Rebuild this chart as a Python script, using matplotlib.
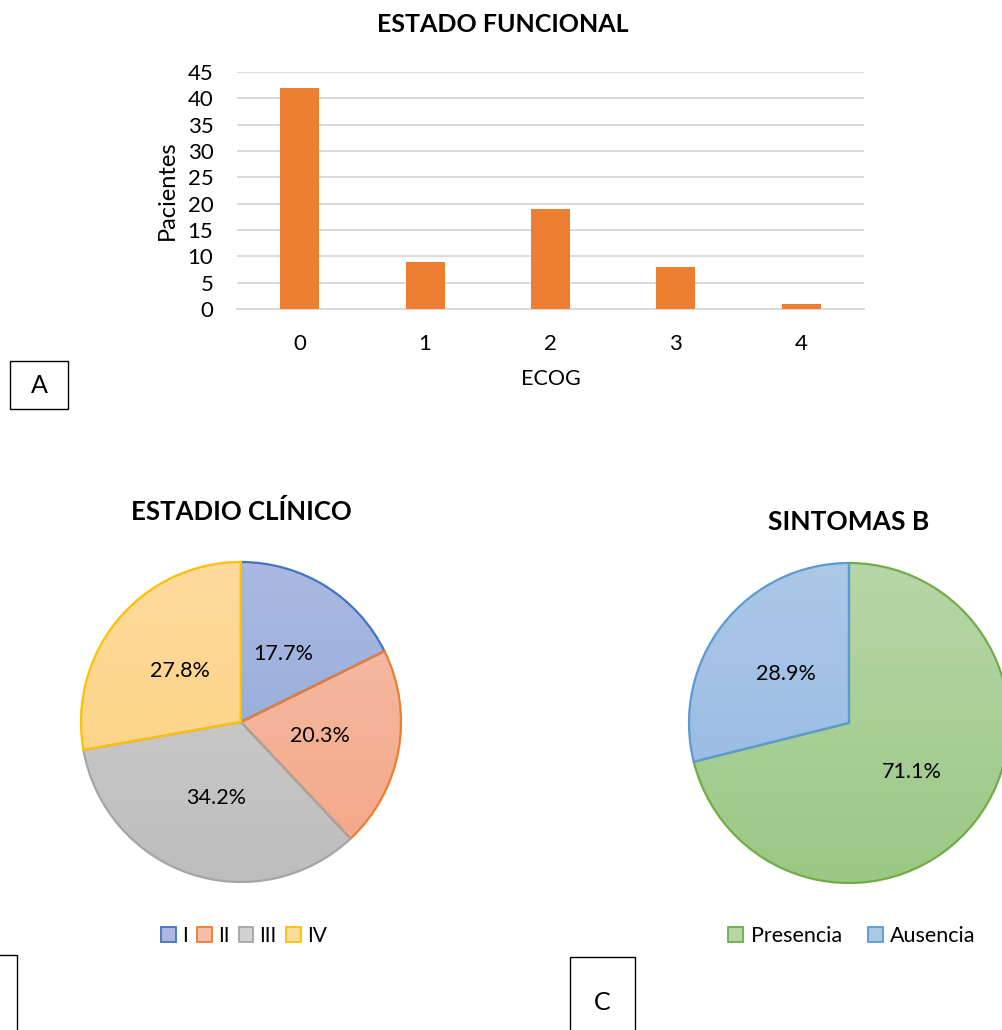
import matplotlib
matplotlib.use("Agg")
import matplotlib.pyplot as plt
import numpy as np
from matplotlib.colors import LinearSegmentedColormap
from matplotlib.patches import Patch, Rectangle

plt.rcParams['font.family'] = ['Lato', 'DejaVu Sans']

# data
ecog = ['0', '1', '2', '3', '4']
pacientes = [42, 9, 19, 8, 1]
yticks = [0, 5, 10, 15, 20, 25, 30, 35, 40, 45]

estadio = ['I', 'II', 'III', 'IV']
estadio_pct = [17.7, 20.3, 34.2, 27.8]
estadio_top = ['#abb9e1', '#f6bfa9', '#d2d2d2', '#fddb9d']
estadio_bot = ['#8aa5d8', '#f3a685', '#bdbdbd', '#fdd17c']
estadio_edge = ['#4472c4', '#ed7d31', '#a5a5a5', '#ffc000']

sintomas = ['Presencia', 'Ausencia']
sintomas_pct = [71.1, 28.9]
sintomas_top = ['#b7d6a8', '#acc8e7']
sintomas_bot = ['#9bc884', '#91b6e2']
sintomas_edge = ['#70ad47', '#5b9bd5']

W, H = 1002, 1030
fig = plt.figure(figsize=(W / 100, H / 100), dpi=100)


def px(x0, y0, x1, y1):
    # pixel box -> figure rect
    return [x0 / W, 1 - y1 / H, (x1 - x0) / W, (y1 - y0) / H]


# ---- bar chart
ax = fig.add_axes(px(237, 72, 864, 309))
x = np.arange(len(ecog))
ax.bar(x, pacientes, width=0.31, color='#ed7d31', zorder=3)
ax.set_xlim(-0.5, len(ecog) - 0.5)
ax.set_ylim(0, 45)
ax.set_yticks(yticks)
ax.set_xticks(x)
ax.set_xticklabels(ecog)
ax.tick_params(length=0, labelsize=16, colors='#000000')
ax.tick_params(axis='x', pad=18)
ax.tick_params(axis='y', pad=17)
ax.grid(axis='y', color='#d9d9d9', linewidth=1.4, zorder=0)
for s in ['top', 'right', 'left']:
    ax.spines[s].set_visible(False)
ax.spines['bottom'].set_color('#d9d9d9')
ax.spines['bottom'].set_linewidth(1.4)
ax.set_xlabel('ECOG', fontsize=15.5, labelpad=11)
ax.set_ylabel('Pacientes', fontsize=17, labelpad=7)
fig.text(503 / W, 1 - 25 / H, 'ESTADO FUNCIONAL', ha='center', va='center',
         fontsize=18, fontweight='bold')


def gradient_pie(ax, vals, tops, bots, edges):
    wedges, texts, autotexts = ax.pie(
        vals, startangle=90, counterclock=False, autopct='%.1f%%',
        pctdistance=0.5, textprops={'fontsize': 15.5},
        wedgeprops={'linewidth': 1.6})
    for w, t, b, e in zip(wedges, tops, bots, edges):
        w.set_facecolor('none')
        w.set_edgecolor(e)
        w.set_zorder(3)
        cmap = LinearSegmentedColormap.from_list('g', [b, t])
        grad = np.linspace(0, 1, 256).reshape(-1, 1)
        im = ax.imshow(grad, cmap=cmap, extent=(-1, 1, -1, 1), origin='lower',
                       aspect='auto', zorder=2)
        im.set_clip_path(w)
    for a in autotexts:
        a.set_zorder(5)
    ax.set_xlim(-1.1, 1.1)
    ax.set_ylim(-1.1, 1.1)
    ax.set_aspect('equal')
    ax.axis('off')
    return wedges


# ---- pie estadio clinico
r = 160
ext = 1.1 * r
ax2 = fig.add_axes(px(241 - ext, 722 - ext, 241 + ext, 722 + ext))
gradient_pie(ax2, estadio_pct, estadio_top, estadio_bot, estadio_edge)
fig.text(241 / W, 1 - 512 / H, 'ESTADIO CLÍNICO', ha='center', va='center',
         fontsize=18.5, fontweight='bold')
h1 = [Patch(facecolor=t, edgecolor=e, linewidth=1.3) for t, e in zip(estadio_top, estadio_edge)]
fig.legend(h1, estadio, loc='center', bbox_to_anchor=(244 / W, 1 - 936 / H),
           ncol=4, frameon=False, fontsize=15, handlelength=0.7, handleheight=0.7,
           handletextpad=0.3, columnspacing=0.45)

# ---- pie sintomas B
ax3 = fig.add_axes(px(849 - ext, 723 - ext, 849 + ext, 723 + ext))
gradient_pie(ax3, sintomas_pct, sintomas_top, sintomas_bot, sintomas_edge)
fig.text(849 / W, 1 - 522 / H, 'SINTOMAS B', ha='center', va='center',
         fontsize=19, fontweight='bold')
h2 = [Patch(facecolor=t, edgecolor=e, linewidth=1.3) for t, e in zip(sintomas_top, sintomas_edge)]
fig.legend(h2, sintomas, loc='center', bbox_to_anchor=(852 / W, 1 - 936 / H),
           ncol=2, frameon=False, fontsize=15.5, handlelength=0.7, handleheight=0.7,
           handletextpad=0.35, columnspacing=1.2)

# ---- panel letter boxes
for (x0, y0, x1, y1), letter in [((10, 361, 68, 409), 'A'),
                                 ((-40, 955, 17, 1040), 'B'),
                                 ((570, 957, 635, 1040), 'C')]:
    fig.patches.append(Rectangle((x0 / W, 1 - y1 / H), (x1 - x0) / W, (y1 - y0) / H,
                                 transform=fig.transFigure, facecolor='white',
                                 edgecolor='black', linewidth=1.0))
    if letter != 'B':
        ty = (y0 + y1) / 2 if letter == 'A' else 1003
        fig.text((x0 + x1) / 2 / W, 1 - ty / H, letter, ha='center', va='center',
                 fontsize=18)

fig.savefig('out.png', dpi=100, facecolor='white')
